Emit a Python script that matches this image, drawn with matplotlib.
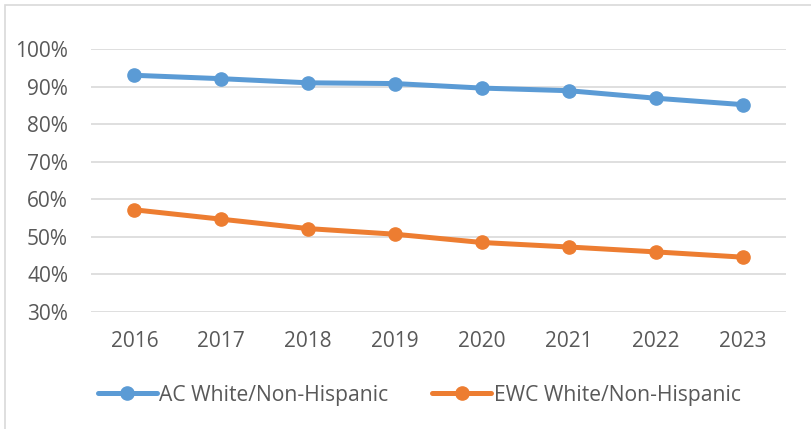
import matplotlib
matplotlib.use("Agg")
import matplotlib.pyplot as plt
from matplotlib.patches import Rectangle
from matplotlib.ticker import FuncFormatter

years = ["2016", "2017", "2018", "2019", "2020", "2021", "2022", "2023"]
ac_white = [93.0, 92.1, 91.0, 90.8, 89.6, 88.9, 86.9, 85.2]
ewc_white = [57.2, 54.7, 52.2, 50.7, 48.5, 47.3, 46.0, 44.6]
series_names = ["AC White/Non-Hispanic", "EWC White/Non-Hispanic"]
y_ticks = [30, 40, 50, 60, 70, 80, 90, 100]

plt.rcParams['font.family'] = ['Open Sans', 'DejaVu Sans']

W, H = 812, 429
fig = plt.figure(figsize=(W / 100, H / 100), dpi=100)
fig.patch.set_facecolor("white")

# chart border (left/top visible)
fig.add_artist(Rectangle((5 / W, -0.1), 1.2, 1.1 - 5 / H, transform=fig.transFigure,
                         fill=False, edgecolor="#d9d9d9", linewidth=1.2))

ax = fig.add_axes([91 / W, 1 - 312 / H, (786 - 91) / W, (312 - 49) / H])
x = list(range(len(years)))
blue = "#5b9bd5"
orange = "#ed7d31"
ax.plot(x, ac_white, color=blue, lw=3.6, marker="o", ms=9.5, label=series_names[0],
        solid_capstyle="round")
ax.plot(x, ewc_white, color=orange, lw=3.6, marker="o", ms=9.5, label=series_names[1],
        solid_capstyle="round")

ax.set_xlim(-0.5, len(years) - 0.5)
ax.set_ylim(30, 100)
ax.set_yticks(y_ticks)
ax.yaxis.set_major_formatter(FuncFormatter(lambda v, p: f"{int(v)}%"))
ax.set_xticks(x)
ax.set_xticklabels(years)
ax.grid(axis="y", color="#d9d9d9", lw=1.2)
ax.set_axisbelow(True)
for s in ax.spines.values():
    s.set_visible(False)
ax.tick_params(axis="both", length=0, labelsize=15, colors="#595959")
ax.tick_params(axis="y", pad=16.5)
ax.tick_params(axis="x", pad=14)

leg = fig.legend(loc="center", bbox_to_anchor=(419 / W, 1 - 395 / H), ncol=2, frameon=False,
                 fontsize=15.2, handlelength=2.8, handletextpad=0.1, columnspacing=2.1,
                 labelcolor="#595959")

fig.savefig("out.png", dpi=100, facecolor="white")
